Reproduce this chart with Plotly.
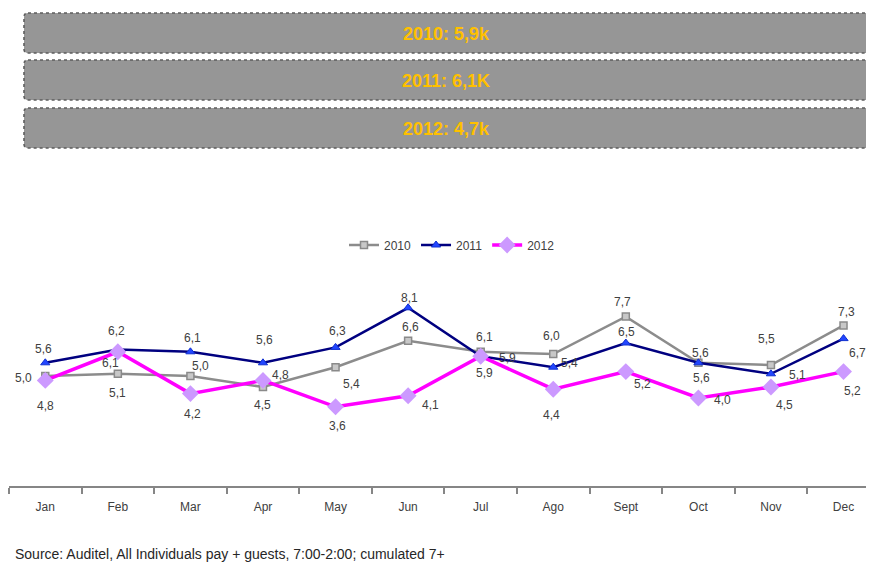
import plotly.graph_objects as go

# ---- data ----
months = ["Jan", "Feb", "Mar", "Apr", "May", "Jun", "Jul", "Ago", "Sept", "Oct", "Nov", "Dec"]
v2010 = [5.0, 5.1, 5.0, 4.5, 5.4, 6.6, 6.1, 6.0, 7.7, 5.6, 5.5, 7.3]
v2011 = [5.6, 6.2, 6.1, 5.6, 6.3, 8.1, 5.9, 5.4, 6.5, 5.6, 5.1, 6.7]
v2012 = [4.8, 6.1, 4.2, 4.8, 3.6, 4.1, 5.9, 4.4, 5.2, 4.0, 4.5, 5.2]
totals = ["2010: 5,9k", "2011: 6,1K", "2012: 4,7k"]
source = "Source: Auditel, All Individuals pay + guests, 7:00-2:00; cumulated 7+"

# ---- label offsets (px, right / down) : styling only ----
off2010 = [(-22, 2), (0, 19), (10, -10), (0, 18), (16, 17), (2, -14), (4, -15), (-2, -18), (-3, -15), (2, -10), (-4, -26), (3, -13)]
off2011 = [(-2, -14), (-1, -19), (2, -14), (2, -23), (2, -16), (1, -10), (27, 2), (16, -4), (1, -11), (3, 15), (27, 1), (14, 14)]
off2012 = [(0, 26), (-7, 11), (2, 20), (18, -5), (2, 19), (22, 9), (4, 17), (-2, 26), (17, 12), (24, 2), (14, 18), (9, 19)]

FONT = "Liberation Sans, Arial, sans-serif"
PAGE = 8  # browser body margin
W, H = 874 - PAGE, 564 - PAGE
# plot area in reference pixels: x 9..874, y 266..486
L, T = 9 - PAGE, 266 - PAGE
R = 0
B = H - (486 - PAGE)
plot_w = W - L - R
plot_h = H - T - B


def fmt(v):
    return f"{v:.1f}".replace(".", ",")


def px_to_paper_x(px):  # reference pixel -> paper
    return (px - PAGE - L) / plot_w


def px_to_paper_y(py):
    return (H - B - (py - PAGE)) / plot_h


fig = go.Figure()
fig.add_trace(go.Scatter(
    x=months, y=v2010, name="2010", mode="lines+markers",
    line=dict(color="#8c8c8c", width=2.5),
    marker=dict(symbol="square", size=7, color="#c8c8c8", line=dict(color="#8a8a8a", width=1.5)),
))
fig.add_trace(go.Scatter(
    x=months, y=v2011, name="2011", mode="lines+markers",
    line=dict(color="#000080", width=2.5),
    marker=dict(symbol="triangle-up", size=8, color="#2246ff", line=dict(color="#1030d0", width=1)),
))
fig.add_trace(go.Scatter(
    x=months, y=v2012, name="2012", mode="lines+markers",
    line=dict(color="#ff00ff", width=3.5),
    marker=dict(symbol="diamond", size=13, color="#cc99ff", line=dict(color="#cc99ff", width=0)),
))

annotations = []
for vals, offs in ((v2010, off2010), (v2011, off2011), (v2012, off2012)):
    for m, v, (dx, dy) in zip(months, vals, offs):
        annotations.append(dict(
            x=m, y=v, xref="x", yref="y", text=fmt(v), showarrow=False,
            xshift=dx, yshift=-dy, font=dict(family=FONT, size=12, color="#404040"),
        ))

shapes = []
box_tops = [13, 60, 108]
box_h = 40
X = px_to_paper_x
Y = px_to_paper_y
for txt, top in zip(totals, box_tops):
    x0, x1 = 24, 884
    y0, y1 = top, top + box_h
    r = 4
    path = (
        f"M {X(x0 + r)},{Y(y0)} L {X(x1 - r)},{Y(y0)} Q {X(x1)},{Y(y0)} {X(x1)},{Y(y0 + r)} "
        f"L {X(x1)},{Y(y1 - r)} Q {X(x1)},{Y(y1)} {X(x1 - r)},{Y(y1)} "
        f"L {X(x0 + r)},{Y(y1)} Q {X(x0)},{Y(y1)} {X(x0)},{Y(y1 - r)} "
        f"L {X(x0)},{Y(y0 + r)} Q {X(x0)},{Y(y0)} {X(x0 + r)},{Y(y0)} Z"
    )
    shapes.append(dict(type="path", path=path, xref="paper", yref="paper",
                       fillcolor="#969696", line=dict(color="#5e5e5e", width=1.6, dash="dot"),
                       layer="below"))
    annotations.append(dict(
        x=X(446), y=Y(top + box_h / 2 + 1), xref="paper", yref="paper",
        text=f"<b>{txt}</b>", showarrow=False, xanchor="center", yanchor="middle",
        font=dict(family=FONT, size=18, color="#ffc000"),
    ))

annotations.append(dict(
    x=X(13), y=Y(554), xref="paper", yref="paper",
    text=source, showarrow=False, xanchor="left", yanchor="middle",
    font=dict(family=FONT, size=14, color="#262626"),
))

fig.update_layout(
    width=W, height=H,
    margin=dict(l=L, r=R, t=T, b=B, pad=0),
    paper_bgcolor="white", plot_bgcolor="white",
    showlegend=True,
    legend=dict(orientation="h", x=X(452), xanchor="center",
                y=Y(245), yanchor="middle",
                font=dict(family=FONT, size=12, color="#404040"),
                bgcolor="rgba(0,0,0,0)", itemwidth=30, tracegroupgap=0),
    xaxis=dict(type="category", range=[-0.5, 11.42], tickson="boundaries",
               showline=True, linecolor="#868686", linewidth=2,
               ticks="outside", ticklen=6, tickwidth=1.5, tickcolor="#868686",
               ticklabelstandoff=9,
               showgrid=False, zeroline=False,
               tickfont=dict(family=FONT, size=12, color="#404040")),
    yaxis=dict(range=[0, 10], visible=False, showgrid=False, zeroline=False),
    annotations=annotations,
    shapes=shapes,
)

fig.write_html("out.html")
